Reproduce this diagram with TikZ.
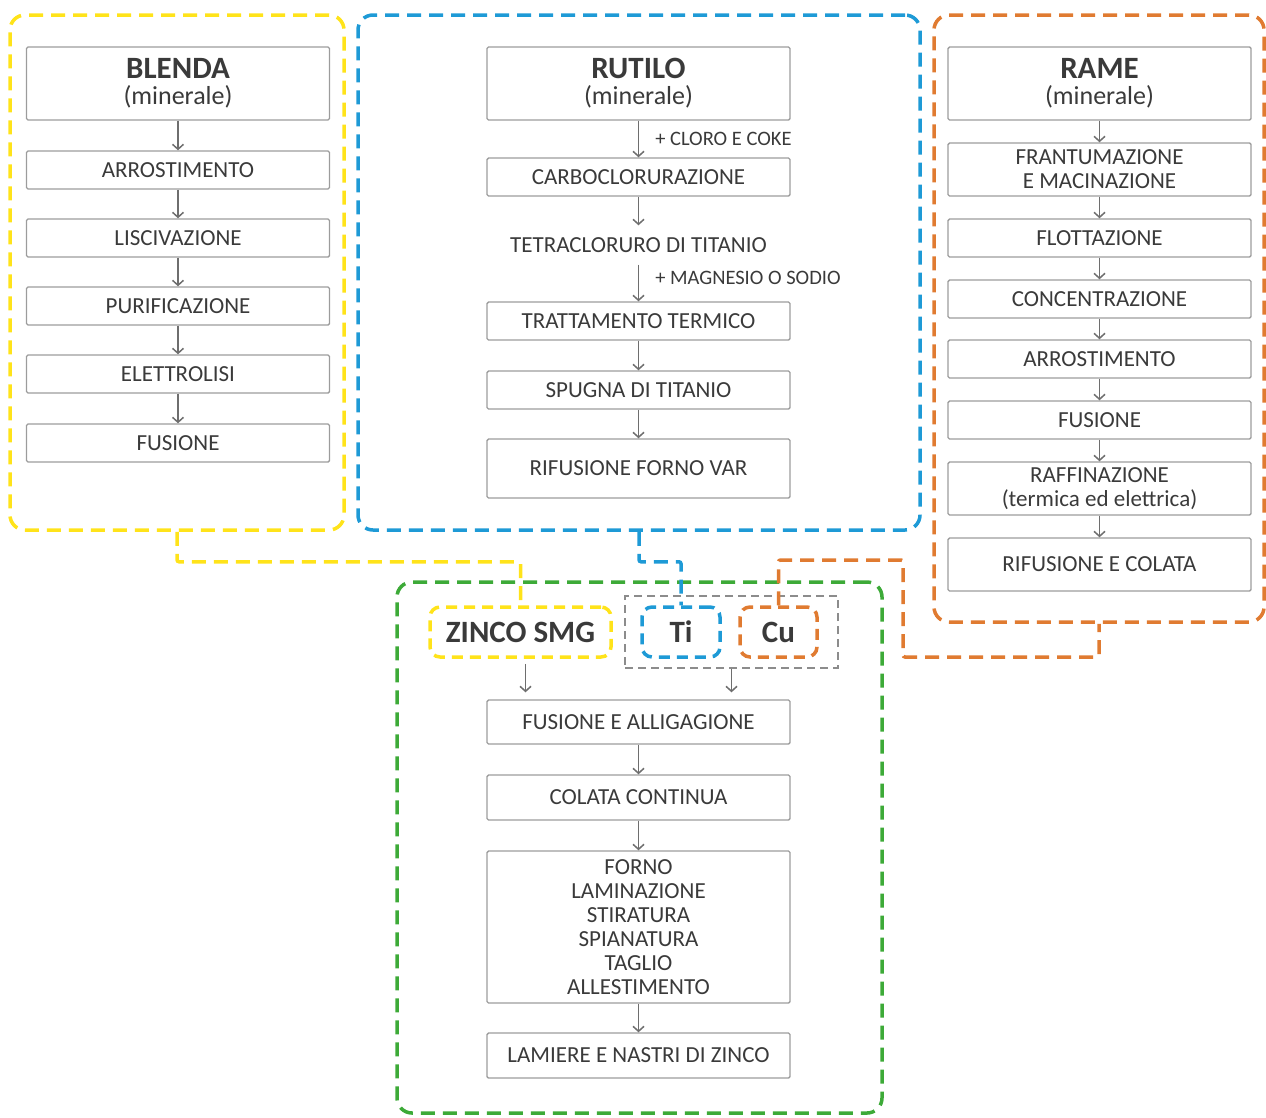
\documentclass[tikz,border=0pt]{standalone}
\usepackage{fontspec}
\setmainfont{Carlito}
\usetikzlibrary{arrows.meta}

\definecolor{giallo}{HTML}{FFE31A}
\definecolor{blu}{HTML}{1E9AD6}
\definecolor{arancio}{HTML}{E07B31}
\definecolor{verde}{HTML}{3DAA38}
\definecolor{bordo}{HTML}{9C9C9C}
\definecolor{linea}{HTML}{6E6E6E}
\definecolor{testo}{HTML}{3A3A3A}

\begin{document}
\begin{tikzpicture} [x=1pt, y=-1pt,
  fase/.style={draw=bordo, line width=1.4pt, rounded corners=1.5pt, minimum width=303pt, minimum height=38pt, inner sep=0pt, align=center, text=testo, font=\fontsize{23}{24}\selectfont},
  titolo/.style={fase, minimum height=73pt},
  etichetta/.style={text=testo, font=\fontsize{20.5}{21}\selectfont, inner sep=0pt},
  freccia/.style={draw=linea, line width=1.5pt, -{Straight Barb[length=5pt,width=11pt]}},
  cornice/.style={line width=3.5pt, rounded corners=15pt, dash pattern=on 14pt off 8pt, inner sep=0pt},
  legame/.style={cornice, rounded corners=2pt},
  metallo/.style={line width=3.5pt, rounded corners=10pt, dash pattern=on 11pt off 7pt, minimum height=50pt, inner sep=0pt, text=testo, font=\fontsize{31}{31}\selectfont\bfseries}]
\useasboundingbox (0,0) rectangle (1266,1117);

% cornici
\node[cornice, draw=giallo, minimum width=334pt, minimum height=515pt] (fgiallo) at (177,272.5) {};
\node[cornice, draw=blu, minimum width=562pt, minimum height=515pt] (fblu) at (639,272.5) {};
\node[cornice, draw=arancio, minimum width=330pt, minimum height=607pt] (farancio) at (1099,318.5) {};
\node[cornice, draw=verde, minimum width=485pt, minimum height=531pt] (fverde) at (639.5,847.5) {};

% metalli
\node[draw=bordo!90!black, line width=1.5pt, dash pattern=on 8pt off 5pt, minimum width=213pt, minimum height=72pt] (grigio) at (731.5,632) {};
\node[metallo, draw=giallo, minimum width=181pt] (zinco) at (520.5,632) {ZINCO SMG};
\node[metallo, draw=blu, minimum width=78pt] (ti) at (681,632) {Ti};
\node[metallo, draw=arancio, minimum width=77pt] (cu) at (778.5,632) {Cu};

% collegamenti
\draw[legame, giallo] (fgiallo.south) -- ++(0,30) -| (zinco.north);
\draw[legame, blu] (fblu.south) -- ++(0,30) -| (ti.north);
\draw[legame, arancio] (cu.north) |- (903,560) -- (903,657) -| (farancio.south);

% blenda
\node[titolo] (blenda) at (178,83.5) {{\fontsize{31}{31}\selectfont\bfseries BLENDA}\\[2pt]{\fontsize{26}{26}\selectfont(minerale)}};
\node[fase] (b1) at (178,170) {ARROSTIMENTO};
\node[fase] (b2) at (178,238) {LISCIVAZIONE};
\node[fase] (b3) at (178,306) {PURIFICAZIONE};
\node[fase] (b4) at (178,374) {ELETTROLISI};
\node[fase] (b5) at (178,443) {FUSIONE};
\draw[freccia] (blenda) -- (b1);
\draw[freccia] (b1) -- (b2);
\draw[freccia] (b2) -- (b3);
\draw[freccia] (b3) -- (b4);
\draw[freccia] (b4) -- (b5);

% rutilo
\node[titolo] (rutilo) at (638.5,83.5) {{\fontsize{31}{31}\selectfont\bfseries RUTILO}\\[2pt]{\fontsize{26}{26}\selectfont(minerale)}};
\node[fase] (r1) at (638.5,177) {CARBOCLORURAZIONE};
\node[fase, draw=none] (r2) at (638.5,245) {TETRACLORURO DI TITANIO};
\node[fase] (r3) at (638.5,321) {TRATTAMENTO TERMICO};
\node[fase] (r4) at (638.5,390) {SPUGNA DI TITANIO};
\node[fase, minimum height=59pt] (r5) at (638.5,468.5) {RIFUSIONE FORNO VAR};
\draw[freccia] (rutilo) -- (r1) node[etichetta, midway, right=16pt]{+ CLORO E COKE};
\draw[freccia] (r1) -- (r2);
\draw[freccia] (r2) -- (r3) node[etichetta, pos=0.35, right=16pt]{+ MAGNESIO O SODIO};
\draw[freccia] (r3) -- (r4);
\draw[freccia] (r4) -- (r5);

% rame
\node[titolo] (rame) at (1099.5,83.5) {{\fontsize{31}{31}\selectfont\bfseries RAME}\\[2pt]{\fontsize{26}{26}\selectfont(minerale)}};
\node[fase, minimum height=53pt] (c1) at (1099.5,169.5) {FRANTUMAZIONE\\E MACINAZIONE};
\node[fase] (c2) at (1099.5,238) {FLOTTAZIONE};
\node[fase] (c3) at (1099.5,299) {CONCENTRAZIONE};
\node[fase] (c4) at (1099.5,359) {ARROSTIMENTO};
\node[fase] (c5) at (1099.5,420) {FUSIONE};
\node[fase, minimum height=53pt] (c6) at (1099.5,488.5) {RAFFINAZIONE\\(termica ed elettrica)};
\node[fase, minimum height=53pt] (c7) at (1099.5,564.5) {RIFUSIONE E COLATA};
\draw[freccia] (rame) -- (c1);
\draw[freccia] (c1) -- (c2);
\draw[freccia] (c2) -- (c3);
\draw[freccia] (c3) -- (c4);
\draw[freccia] (c4) -- (c5);
\draw[freccia] (c5) -- (c6);
\draw[freccia] (c6) -- (c7);

% lega
\node[fase, minimum height=44pt] (z1) at (638.5,722) {FUSIONE E ALLIGAGIONE};
\node[fase, minimum height=45pt] (z2) at (638.5,797.5) {COLATA CONTINUA};
\node[fase, minimum height=152pt] (z3) at (638.5,927) {FORNO\\LAMINAZIONE\\STIRATURA\\SPIANATURA\\TAGLIO\\ALLESTIMENTO};
\node[fase, minimum height=45pt] (z4) at (638.5,1055.5) {LAMIERE E NASTRI DI ZINCO};
\draw[freccia, shorten <=5pt, shorten >=7pt] ([xshift=5pt]zinco.south) -- ([xshift=5pt]zinco.south |- z1.north);
\draw[freccia, shorten >=7pt] (grigio.south) -- (grigio.south |- z1.north);
\draw[freccia] (z1) -- (z2);
\draw[freccia] (z2) -- (z3);
\draw[freccia] (z3) -- (z4);
\end{tikzpicture}
\end{document}
